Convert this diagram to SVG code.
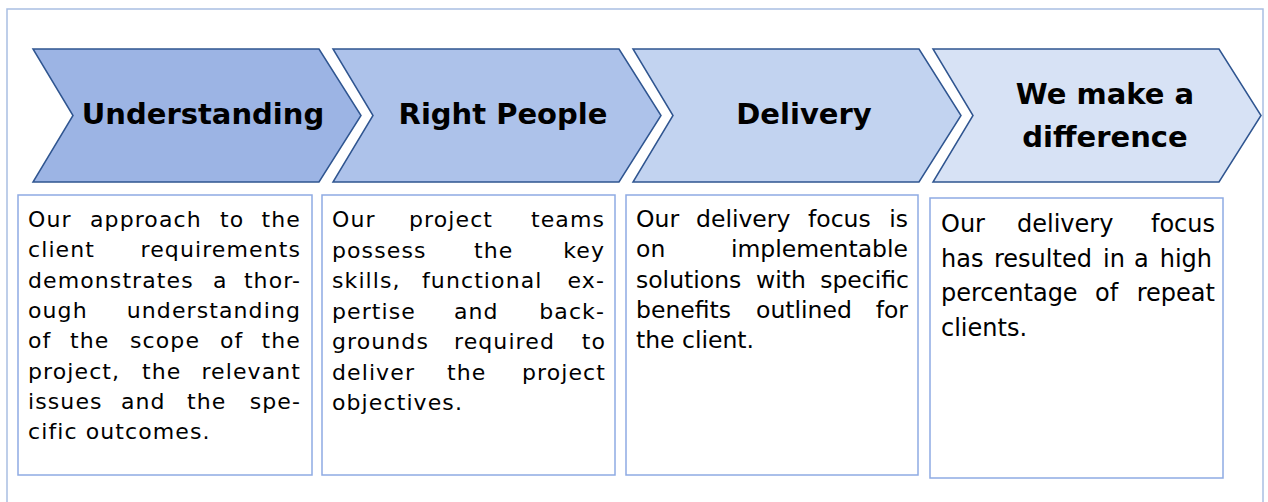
<svg xmlns="http://www.w3.org/2000/svg" width="1268" height="502" viewBox="0 0 1268 502">
<style>
.frame{fill:none;stroke:#A9BEE2;stroke-width:1.5}
.chev{stroke:#2F5590;stroke-width:1.5;stroke-linejoin:miter}
.c1{fill:#9CB4E4}.c2{fill:#ADC2EA}.c3{fill:#C2D3F0}.c4{fill:#D7E2F5}
.hd{font-family:"DejaVu Sans","Verdana",sans-serif;font-weight:bold;font-size:29px;fill:#000;text-anchor:middle}
.box{fill:#fff;stroke:#8EABE3;stroke-width:1.5}
.bt{font-family:"DejaVu Sans","Verdana",sans-serif;font-size:22px;letter-spacing:1.1px;fill:#000}
.bc{font-family:"DejaVu Sans","Verdana",sans-serif;font-size:23.5px;fill:#000}
.bd{font-family:"DejaVu Sans","Verdana",sans-serif;font-size:24px;fill:#000}
.e{text-anchor:end}
</style>
<rect class="frame" x="7" y="9" width="1256" height="520"/>
<g id="step1">
<polygon class="chev c1" points="33,49 319,49 361,115.5 319,182 33,182 73,115.5"/>
<text class="hd" x="203" y="124">Understanding</text>
</g>
<g id="step2">
<polygon class="chev c2" points="333,49 619,49 661,115.5 619,182 333,182 373,115.5"/>
<text class="hd" x="503" y="124">Right People</text>
</g>
<g id="step3">
<polygon class="chev c3" points="633,49 919,49 961,115.5 919,182 633,182 673,115.5"/>
<text class="hd" x="804" y="124">Delivery</text>
</g>
<g id="step4">
<polygon class="chev c4" points="933,49 1219,49 1261,115.5 1219,182 933,182 973,115.5"/>
<text class="hd" x="1105" y="104">We make a</text>
<text class="hd" x="1105" y="147">difference</text>
</g>
<g id="desc1">
<rect class="box" x="18" y="195" width="294" height="280"/>
<text class="bt" y="227"><tspan x="28">Our</tspan><tspan x="90">approach</tspan><tspan x="220">to</tspan></text>
<text class="bt e" x="301" y="227">the</text>
<text class="bt" x="28" y="257.3">client</text><text class="bt e" x="301" y="257.3">requirements</text>
<text class="bt" y="287.6"><tspan x="28">demonstrates</tspan><tspan x="213">a</tspan></text><text class="bt e" x="301" y="287.6">thor-</text>
<text class="bt" x="28" y="317.9">ough</text><text class="bt e" x="301" y="317.9">understanding</text>
<text class="bt" y="348.2"><tspan x="28">of</tspan><tspan x="70">the</tspan><tspan x="130">scope</tspan><tspan x="220">of</tspan></text><text class="bt e" x="301" y="348.2">the</text>
<text class="bt" y="378.5"><tspan x="28">project,</tspan><tspan x="142">the</tspan></text><text class="bt e" x="301" y="378.5">relevant</text>
<text class="bt" y="408.8"><tspan x="28">issues</tspan><tspan x="121">and</tspan><tspan x="187">the</tspan></text><text class="bt e" x="301" y="408.8">spe-</text>
<text class="bt" x="28" y="439">cific outcomes.</text>
</g>
<g id="desc2">
<rect class="box" x="322" y="195" width="293" height="280"/>
<text class="bt" y="227"><tspan x="332">Our</tspan><tspan x="409">project</tspan></text><text class="bt e" x="605" y="227">teams</text>
<text class="bt" y="257.5"><tspan x="332">possess</tspan><tspan x="474">the</tspan></text><text class="bt e" x="605" y="257.5">key</text>
<text class="bt" y="288"><tspan x="332">skills,</tspan><tspan x="422">functional</tspan></text><text class="bt e" x="605" y="288">ex-</text>
<text class="bt" y="318.5"><tspan x="332">pertise</tspan><tspan x="454">and</tspan></text><text class="bt e" x="605" y="318.5">back-</text>
<text class="bt" y="349"><tspan x="332">grounds</tspan><tspan x="454">required</tspan></text><text class="bt e" x="606" y="349">to</text>
<text class="bt" y="379.5"><tspan x="332">deliver</tspan><tspan x="447">the</tspan></text><text class="bt e" x="606" y="379.5">project</text>
<text class="bt" x="332" y="410">objectives.</text>
</g>
<g id="desc3">
<rect class="box" x="626" y="195" width="292" height="280"/>
<text class="bc" y="227"><tspan x="636">Our</tspan><tspan x="696">delivery</tspan><tspan x="808">focus</tspan></text><text class="bc e" x="908" y="227">is</text>
<text class="bc" x="636" y="257.3">on</text><text class="bc e" x="908" y="257.3">implementable</text>
<text class="bc" y="287.6"><tspan x="636">solutions</tspan><tspan x="756">with</tspan></text><text class="bc e" x="909" y="287.6">specific</text>
<text class="bc" y="317.9"><tspan x="636">benefits</tspan><tspan x="756">outlined</tspan></text><text class="bc e" x="908" y="317.9">for</text>
<text class="bc" x="636" y="348.2">the client.</text>
</g>
<g id="desc4">
<rect class="box" x="930" y="198" width="293" height="280"/>
<text class="bd" y="232"><tspan x="941">Our</tspan><tspan x="1017">delivery</tspan></text><text class="bd e" x="1215" y="232">focus</text>
<text class="bd" y="266.5"><tspan x="941">has</tspan><tspan x="994">resulted</tspan><tspan x="1103">in</tspan><tspan x="1134">a</tspan></text><text class="bd e" x="1212" y="266.5">high</text>
<text class="bd" y="301"><tspan x="941">percentage</tspan><tspan x="1095">of</tspan></text><text class="bd e" x="1215" y="301">repeat</text>
<text class="bd" x="941" y="336">clients.</text>
</g>
</svg>
